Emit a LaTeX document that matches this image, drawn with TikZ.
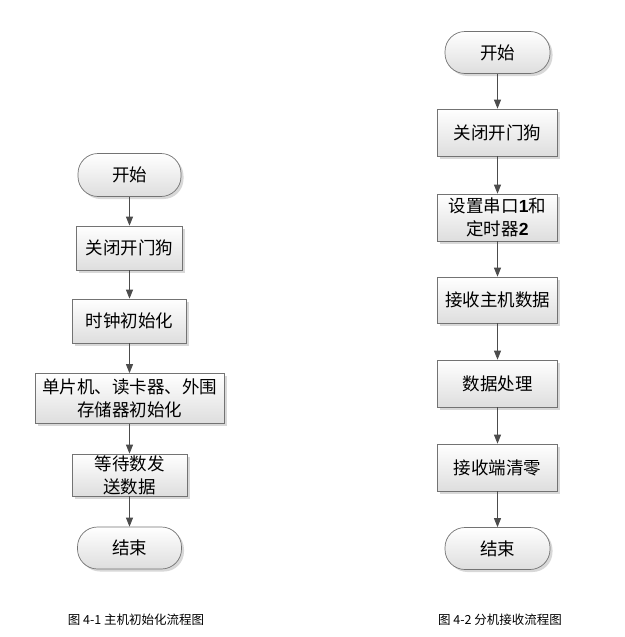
\documentclass[tikz,border=0pt]{standalone}
\usepackage{fontspec}
\setmainfont{Noto Sans CJK SC}
\newfontfamily\latb{Liberation Sans}
\usetikzlibrary{shadows,arrows.meta}
\begin{document}
\begin{tikzpicture}[x=1pt,y=-1pt,
  box/.style={draw=black!55, line width=0.7pt, top color=white, bottom color=black!13,
    drop shadow={shadow xshift=2.5pt, shadow yshift=-2.5pt, fill=black!30, opacity=0.5},
    inner sep=0pt, font=\fontsize{17.5}{23}\selectfont, align=center},
  term/.style={box, rounded corners=20pt},
  arr/.style={draw=black!70, line width=0.9pt, -{Triangle[length=9pt,width=7pt]}},
  captext/.style={font=\fontsize{12.5}{14}\selectfont, inner sep=0pt}]
\useasboundingbox (0,0) rectangle (624,637);
\fill[white] (0,0) rectangle (624,637);
% left flow
\node[term, minimum width=103pt, minimum height=43pt] (l1) at (129.5,175) {开始};
\node[box, minimum width=106pt, minimum height=44pt] (l2) at (129.5,248) {关闭开门狗};
\node[box, minimum width=114pt, minimum height=44pt] (l3) at (129.5,321) {时钟初始化};
\node[box, minimum width=189pt, minimum height=50pt] (l4) at (129.5,398.5) {单片机、读卡器、外围\\存储器初始化};
\node[box, minimum width=115pt, minimum height=42pt] (l5) at (129.5,475) {等待数发\\送数据};
\node[term, minimum width=104pt, minimum height=42pt] (l6) at (129.5,548) {结束};
\foreach \a/\b in {l1/l2,l2/l3,l3/l4,l4/l5,l5/l6} \draw[arr] (\a) -- (\b);
% right flow
\node[term, minimum width=105pt, minimum height=42pt] (r1) at (497.5,52.5) {开始};
\node[box, minimum width=120pt, minimum height=47pt] (r2) at (497.5,132.5) {关闭开门狗};
\node[box, minimum width=120pt, minimum height=47pt] (r3) at (497.5,217.5) {设置串口{\latb\bfseries 1}和\\定时器{\latb\bfseries 2}};
\node[box, minimum width=120pt, minimum height=46pt] (r4) at (497.5,300) {接收主机数据};
\node[box, minimum width=120pt, minimum height=47pt] (r5) at (497.5,383.5) {数据处理};
\node[box, minimum width=120pt, minimum height=47pt] (r6) at (497.5,467.5) {接收端清零};
\node[term, minimum width=105pt, minimum height=42pt] (r7) at (497.5,548.5) {结束};
\foreach \a/\b in {r1/r2,r2/r3,r3/r4,r4/r5,r5/r6,r6/r7} \draw[arr] (\a) -- (\b);
% captions
\node[captext] (c1) at (136,620) {图 4-1 主机初始化流程图};
\node[captext] (c2) at (500,620) {图 4-2 分机接收流程图};
\end{tikzpicture}
\end{document}
